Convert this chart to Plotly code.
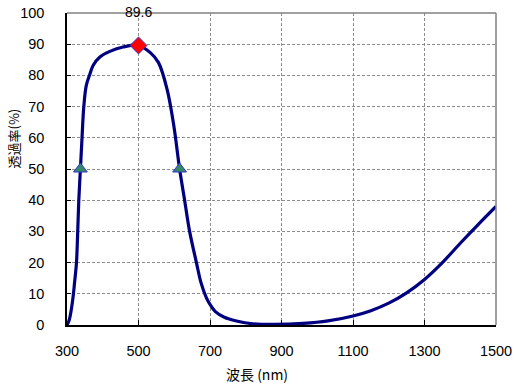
import plotly.graph_objects as go

wavelength = [300, 306, 312, 317, 321, 326.5, 330, 333, 337.5, 342, 347, 354, 364, 373, 392, 420, 457, 500,
              533, 556, 580, 599, 615, 629, 643, 662, 675, 690, 700, 715, 740, 774, 820, 880,
              960, 1030, 1100, 1150, 1200, 1250, 1300, 1350, 1400, 1450, 1500]
transmittance = [0, 1.5, 4.9, 9, 13.4, 20, 30, 40, 50, 60, 70, 76.8, 80.4, 83.2, 85.9, 87.7, 89.1, 89.6,
                 87.3, 84.1, 75.5, 63.7, 50, 40, 30, 20, 13.5, 8.7, 6.6, 4.3, 2.5, 1.3, 0.4, 0.2,
                 0.5, 1.3, 2.9, 4.6, 7.0, 10.3, 14.6, 20.0, 26.2, 32.2, 38]

peak_x = [500]
peak_y = [89.6]
half_x = [337.5, 615]
half_y = [50, 50]

x_ticks = [300, 500, 700, 900, 1100, 1300, 1500]
y_ticks = list(range(0, 101, 10))

x_title = "波長 (nm)"
y_title = "透過率(%)"

fig = go.Figure()
fig.add_trace(go.Scatter(x=wavelength, y=transmittance, mode="lines",
                         line=dict(color="#000080", width=3.2, shape="spline", smoothing=1.0),
                         hoverinfo="skip"))
fig.add_trace(go.Scatter(x=half_x, y=half_y, mode="markers",
                         marker=dict(symbol="triangle-up", size=12, color="#338866",
                                     line=dict(color="#3333cc", width=1))))
fig.add_trace(go.Scatter(x=peak_x, y=peak_y, mode="markers",
                         marker=dict(symbol="diamond", size=13, color="#ff0000",
                                     line=dict(color="#3333cc", width=1))))
fig.add_annotation(x=peak_x[0], y=100, text=f"{peak_y[0]}", showarrow=False,
                   yshift=1, font=dict(family="Liberation Sans, Arial", size=14, color="#000"))

# axis titles (positioned like the original, not centred)
fig.add_annotation(xref="paper", yref="paper", x=(257 - 67) / 429, y=-(374 - 325) / 312,
                   text=x_title, showarrow=False, xanchor="center", yanchor="middle",
                   font=dict(family="Noto Sans CJK JP", size=14, color="#000"))
fig.add_annotation(xref="paper", yref="paper", x=-(67 - 13) / 429, y=(325 - 138.5) / 312,
                   text=y_title, showarrow=False, textangle=-90, xanchor="center", yanchor="middle",
                   font=dict(family="Noto Sans CJK JP", size=13, color="#000"))

fig.update_layout(
    width=521, height=389,
    margin=dict(l=67, r=25, t=13, b=64, autoexpand=False),
    paper_bgcolor="white", plot_bgcolor="white",
    showlegend=False,
    font=dict(family="Liberation Sans, Arial", size=14.5, color="#000"),
    xaxis=dict(range=[300, 1500], tickvals=x_ticks, ticktext=[str(v) for v in x_ticks],
               showgrid=True, gridcolor="#8c8c8c", griddash="3px,2px", gridwidth=1,
               showline=True, linecolor="#000", linewidth=1.5, mirror=False,
               ticks="inside", ticklen=5, tickcolor="#000", zeroline=False, automargin=False,
               ticklabelstandoff=12),
    yaxis=dict(range=[0, 100], tickvals=y_ticks,
               showgrid=True, gridcolor="#8c8c8c", griddash="3px,2px", gridwidth=1,
               showline=True, linecolor="#000", linewidth=1.5,
               ticks="inside", ticklen=4, tickcolor="#000", zeroline=False, automargin=False,
               ticklabelstandoff=18),
)
fig.add_shape(type="line", xref="paper", yref="paper", x0=0, x1=1, y0=1, y1=1,
              line=dict(color="#808080", width=1.5))
fig.add_shape(type="line", xref="paper", yref="paper", x0=1, x1=1, y0=0, y1=1,
              line=dict(color="#808080", width=1.5))

fig.write_html("out.html", config={"displayModeBar": False},
               post_script="document.body.style.margin='0';document.body.style.overflow='hidden';")
